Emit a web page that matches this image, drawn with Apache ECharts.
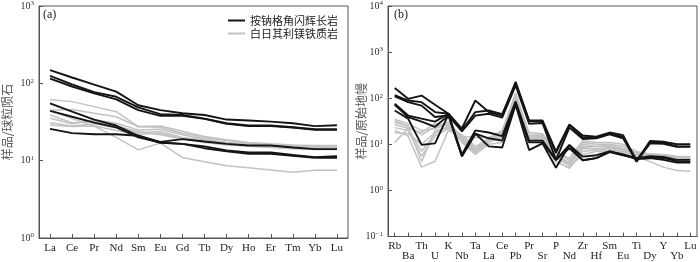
<!DOCTYPE html>
<html><head><meta charset="utf-8">
<script src="https://cdn.jsdelivr.net/npm/echarts@6/dist/echarts.min.js"></script>
<style>html,body{margin:0;padding:0;background:#fff}#c{width:700px;height:262px}</style>
</head><body><div id="c"></div>
<script>
// ---- Panel (a): chondrite-normalised REE ----
const reeCats = ['La','Ce','Pr','Nd','Sm','Eu','Gd','Tb','Dy','Ho','Er','Tm','Yb','Lu'];
const reeBlack1 = [148,119,96,78,52,45,41,39,34,33,32,30.5,28,28.7];
const reeBlack2 = [125,97,77,67,49,40,39,35,30.5,28.5,28.5,27,25.5,25.5];
const reeBlack3 = [115,91,74,62,45,38,38,34.7,30,28,28,26.8,25,25];
const reeBlack4 = [55,43,34,28.5,21,17.5,19,17.7,16.5,15.7,15.7,14.8,14.1,14.1];
const reeBlack5 = [44,37,31,27,20,17.2,16.5,15.3,13.6,12.8,12.8,11.9,11.1,11.4];
const reeBlack6 = [25.8,22.7,22,22,21,17,16.5,14.5,13.2,12.3,12.3,11.6,10.9,10.9];
const reeGray1 = [62,58,50,43,27.6,28,24,20.5,18.6,17.2,16.5,16,15.7,15.7];
const reeGray2 = [45,46,41,37,27.5,27,22.6,20,18.2,16.9,16,15.6,15.4,15.4];
const reeGray3 = [35.3,30,33.7,30.5,25,25.5,21.6,19,17.2,16.5,15.7,15.4,15,15];
const reeGray4 = [31,28,30,26.4,23,23.8,20,18.6,16.9,16,15.6,15,14.6,14.6];
const reeGray5 = [45,35,28,20,13.8,16.9,11,9.7,8.6,8.1,7.6,7.1,7.5,7.5];
const reeGray6 = [29,27.7,28,24.5,22,22.6,19.5,17.7,16.5,15.7,15.4,14.8,14.6,14.8];
const reeGray7 = [39,31,32,28,23.8,21.6,19,17.2,16,15.4,14.8,14.3,13.9,13.9];

// ---- Panel (b): primitive-mantle-normalised spider ----
const spCats = ['Rb','Ba','Th','U','K','Nb','Ta','La','Ce','Pb','Pr','Sr','P','Nd','Zr','Hf','Sm','Eu','Ti','Dy','Y','Yb','Lu'];
const spBlack1 = [166,97,114,72,46,22,89,50,42,227,33,33,7,27,15.5,14.6,18,15.8,4.3,11.8,11.4,10,10];
const spBlack2 = [117,89,82,50,46,20,50,54,45,210,32,31,6.5,26,14,14,17,14.5,4.5,11,10.8,9,9];
const spBlack3 = [110,82,69,39,42,19,42,46,38,190,28,29,4.6,23,13,13.5,16.5,13.5,4.2,10.5,10.3,8.8,8.8];
const spBlack4 = [76,42,36,31,46,6,20,18,15,85,12,12,4.6,9.7,5.4,5.8,7,6,5,5.5,5.3,4.6,4.6];
const spBlack5 = [72,39,31,24,42,5.5,17,13.5,12,78,11,11,4.6,8.2,4.5,5,6.8,5.8,5,5.2,5,4.3,4.2];
const spBlack6 = [54,36,9.7,10.5,44,5.5,17,9,8.5,72,7.5,10.5,3.1,9.5,4.5,5,7,5.9,4.8,5,4.6,4,4];
const spGray1 = [35,28,20,22,28,15,14,14,20,120,18,17,7,4.5,11,10,10,9,6.5,6,5.8,5.3,5.3];
const spGray2 = [30,25,16,24,30,14,8,12,18,110,15,16,6,4,9,9,9,8,6.5,5.8,5.5,5.2,5.2];
const spGray3 = [27,22,7,17,25,13,7,12,16,100,14,15,5,3.5,8,8,8,7.5,6,5.5,5.3,5,5];
const spGray4 = [23,20,5.5,15,22,12,6.5,11,14,95,13,14,4.5,3,7,7.5,7.5,7,6,5.5,5.3,5,5];
const spGray5 = [20,15,3.2,4.3,20,14.5,8,14,12,85,11,15,5.5,4,10,9,9.5,8,5.5,4.2,3.2,2.7,2.6];
const spGray6 = [11,22,18,28,25,11,6,10,11,90,12,13,4,3.2,6,7,7,6.5,5.5,5.3,5.2,4.9,4.9];
const spGray7 = [33,24,4.2,20,23,16,9,13,19,130,16,16,6.5,5,12,11,11,10,7,6.2,6,5.5,5.4];
const spGray8 = [18,17,10,18,24,13,7.5,12,15,105,14,14,5,3.8,8.5,8,8.5,7.5,6,5.6,5.4,5.1,5.1];

const nameBlack = '按钠格角闪辉长岩';
const nameGray = '白日其利镁铁质岩';

const reeBlack = [reeBlack1,reeBlack2,reeBlack3,reeBlack4,reeBlack5,reeBlack6];
const reeGray = [reeGray1,reeGray2,reeGray3,reeGray4,reeGray5,reeGray6,reeGray7];
const spBlack = [spBlack1,spBlack2,spBlack3,spBlack4,spBlack5,spBlack6];
const spGray = [spGray1,spGray2,spGray3,spGray4,spGray5,spGray6,spGray7,spGray8];

const BLACK = '#141414', GRAY = '#c2c2c2', AX = '#555';
const serif = 'Liberation Serif';

function mk(data, idx, black) {
  return {
    type: 'line', name: black ? nameBlack : nameGray,
    xAxisIndex: idx, yAxisIndex: idx, data: data,
    symbol: 'none', showSymbol: false, smooth: false,
    lineStyle: { color: black ? BLACK : GRAY, width: black ? 1.9 : 1.5 },
    itemStyle: { color: black ? BLACK : GRAY },
    z: black ? 3 : 2, silent: true, animation: false
  };
}
const series = [];
reeGray.forEach(d => series.push(mk(d, 0, false)));
reeBlack.forEach(d => series.push(mk(d, 0, true)));
spGray.forEach(d => series.push(mk(d, 1, false)));
spBlack.forEach(d => series.push(mk(d, 1, true)));

function powLabel(v) {
  const e = Math.round(Math.log10(v));
  return '{b|10}{s|' + (e < 0 ? '\u2212' + (-e) : e) + '}';
}
const powRich = {
  b: { fontFamily: serif, fontSize: 10, color: '#333' },
  s: { fontFamily: serif, fontSize: 7, color: '#333', verticalAlign: 'top', padding: [0,0,5,0] }
};
function yAx(idx, min, max, name, gap) {
  return {
    gridIndex: idx, type: 'log', logBase: 10, min: min, max: max,
    splitLine: { show: false },
    axisLine: { show: true, lineStyle: { color: AX, width: 1 } },
    axisTick: { show: true, inside: true, length: 4, lineStyle: { color: AX } },
    minorTick: { show: false },
    axisLabel: { formatter: powLabel, rich: powRich, margin: 5 },
    name: name, nameLocation: 'middle', nameGap: gap, nameMoveOverlap: false,
    nameTextStyle: { fontFamily: 'Noto Sans CJK SC', fontSize: 12, color: '#555' }
  };
}
function xAx(idx, cats, twoRows) {
  return {
    gridIndex: idx, type: 'category', data: cats, boundaryGap: true,
    axisLine: { show: true, lineStyle: { color: AX, width: 1 } },
    axisTick: { show: true, inside: true, alignWithLabel: true, length: 4, lineStyle: { color: AX } },
    axisLabel: {
      interval: 0, fontFamily: serif, fontSize: 11, color: '#222', margin: 5, lineHeight: 10,
      formatter: twoRows ? ((v, i) => (i % 2 ? '\n' + v : v)) : (v => v)
    }
  };
}

const chart = echarts.init(document.getElementById('c'), null, { renderer: 'canvas' });
chart.setOption({
  animation: false,
  grid: [
    { left: 38, top: 5, width: 310, height: 233, show: true, borderColor: AX, borderWidth: 1, backgroundColor: 'transparent' },
    { left: 388, top: 5, width: 309, height: 233, show: true, borderColor: AX, borderWidth: 1, backgroundColor: 'transparent' }
  ],
  xAxis: [xAx(0, reeCats, false), xAx(1, spCats, true)],
  yAxis: [yAx(0, 1, 1000, '样品/球粒陨石', 26), yAx(1, 0.1, 10000, '样品/原始地幔', 21)],
  legend: {
    orient: 'vertical', left: 223, top: 10, itemGap: 2,
    itemWidth: 17, itemHeight: 2, icon: 'rect',
    data: [
      { name: nameBlack, itemStyle: { color: BLACK } },
      { name: nameGray, itemStyle: { color: GRAY } }
    ],
    textStyle: { fontFamily: 'Noto Sans CJK SC', fontSize: 11, color: '#222' },
    selectedMode: false
  },
  graphic: [
    { type: 'text', left: 43, top: 9, style: { text: '(a)', font: '12px "Liberation Serif"', fill: '#222' } },
    { type: 'text', left: 394, top: 9, style: { text: '(b)', font: '12px "Liberation Serif"', fill: '#222' } }
  ],
  series: series
});
</script>
</body></html>
